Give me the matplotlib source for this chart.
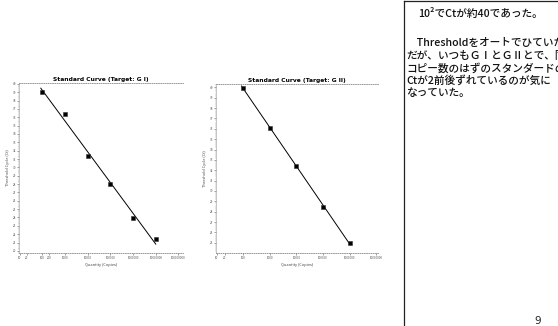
import numpy as np
import matplotlib
matplotlib.use('Agg')
import matplotlib.pyplot as plt
from matplotlib.ticker import FixedLocator, MultipleLocator

plt.rcParams['font.family'] = ['Noto Sans CJK JP', 'DejaVu Sans']

# Standard curve data (quantity in copies, Ct)
qtyG1 = np.array([1e2, 1e3, 1e4, 1e5, 1e6, 1e7])
ctG1 = np.array([39.0, 36.4, 31.4, 28.0, 23.9, 21.4])
qtyG2 = np.array([1e2, 1e3, 1e4, 1e5, 1e6])
ctG2 = np.array([39.9, 36.1, 32.4, 28.5, 25.0])

xticksG1 = [10, 20, 100, 200, 1000, 10000, 100000, 1000000, 10000000, 100000000]
xticksG2 = [10, 20, 100, 1000, 10000, 100000, 1000000, 10000000]

noteLines = ["10²でCtが約40であった。",
             "",
             "　Thresholdをオートでひていたの",
             "だが、いつもＧⅠとＧⅡとで、同じ",
             "コピー数のはずのスタンダードの",
             "Ctが2前後ずれているのが気に",
             "なっていた。"]

fig = plt.figure(figsize=(5.58, 3.26), dpi=100)
fig.patch.set_facecolor('white')

def stdCurve(ax, qty, ct, xticks, xlim, ylim, ystep, title):
    ax.set_xscale('log')
    slope, icpt = np.polyfit(np.log10(qty), ct, 1)
    lx = np.linspace(np.log10(qty.min()) - 0.07, np.log10(qty.max()), 20)
    ax.plot(10**lx, slope*lx + icpt, color='black', lw=0.7)
    ax.plot(qty, ct, 's', color='black', ms=2.8, mec='#333333', mew=0.4)
    ax.set_xlim(xlim)
    ax.set_ylim(ylim)
    ax.xaxis.set_major_locator(FixedLocator(xticks))
    ax.xaxis.set_minor_locator(FixedLocator([]))
    ax.set_xticklabels([str(t) for t in xticks])
    ax.yaxis.set_major_locator(MultipleLocator(ystep))
    ax.yaxis.set_minor_locator(MultipleLocator(ystep/5))
    ax.tick_params(labelsize=2.2, length=1.2, width=0.4, pad=1, colors='#555555')
    ax.tick_params(which='minor', length=0.8, width=0.3, colors='#888888')
    ax.yaxis.set_major_formatter(matplotlib.ticker.FormatStrFormatter('%.0f'))
    for s in ['top', 'bottom']:
        ax.spines[s].set_linestyle(':')
        ax.spines[s].set_color('#888888')
        ax.spines[s].set_linewidth(0.6)
    ax.spines['left'].set_color('#999999')
    ax.spines['left'].set_linewidth(0.4)
    ax.spines['right'].set_visible(False)
    ax.set_title(title, fontsize=4.3, fontweight='bold', pad=1.5, family='DejaVu Sans')
    ax.set_xlabel('Quantity (Copies)', fontsize=2.8, labelpad=2, color='#444444')
    ax.set_ylabel('Threshold Cycle (Ct)', fontsize=2.8, labelpad=2, color='#444444')

ax1 = fig.add_axes([19/558, 1-253/326, 164/558, 170/326])
stdCurve(ax1, qtyG1, ctG1, xticksG1, (10**0.97, 10**8.2), (19.75, 40.1), 1,
         'Standard Curve (Target: G I)')

ax2 = fig.add_axes([216/558, 1-253/326, 162/558, 169/326])
stdCurve(ax2, qtyG2, ctG2, xticksG2, (10**0.97, 10**7.07), (24.02, 40.32), 1,
         'Standard Curve (Target: G II)')

# Text box on the right
fig.add_artist(plt.Line2D([404/558, 404/558], [0, 1-1/326], color='#222222', lw=0.9))
fig.add_artist(plt.Line2D([404/558, 1], [1-1/326, 1-1/326], color='#222222', lw=0.9))

lineY = [13, 0, 43, 55.5, 68, 80.5, 93]
for txt, y in zip(noteLines, lineY):
    if not txt:
        continue
    x = 418 if txt.startswith('10') else 406
    fig.text(x/558, 1-y/326, txt, fontsize=7.7, fontweight='medium', va='center',
             ha='left', color='#111111')

fig.text(538/558, 1-321/326, '9', fontsize=7.5, va='center', ha='center', color='#222222',
         family='DejaVu Sans')

fig.savefig('out.png', dpi=100)
